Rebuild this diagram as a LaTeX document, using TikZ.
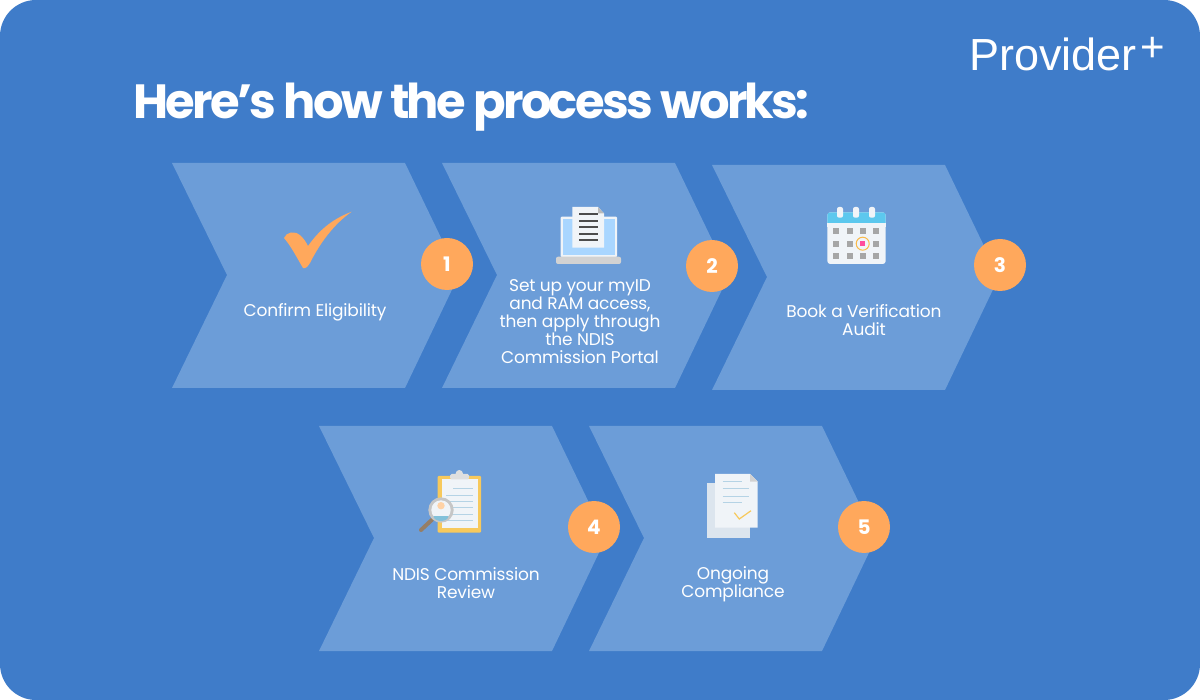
\documentclass[tikz,border=0pt]{standalone}
\usepackage{fontspec}
\setmainfont{Poppins}
\newfontfamily\logofont{Liberation Sans}
\newfontfamily\tightfont[LetterSpace=-1.0]{Poppins}
\newfontfamily\titlefont[LetterSpace=-5.7]{Poppins Bold}
\definecolor{panelblue}{HTML}{3F7CC9}
\definecolor{chevblue}{HTML}{6C9DD8}
\definecolor{badge}{HTML}{FFA85C}
\definecolor{papergray}{HTML}{F0F4F8}
\definecolor{linesblue}{HTML}{B5D3E5}
\definecolor{clipyellow}{HTML}{F7C95C}
\definecolor{screenblue}{HTML}{A9D6FF}
\definecolor{headercyan}{HTML}{5CC8EE}
\definecolor{backsheet}{HTML}{DCE5EE}

\begin{document}
\begin{tikzpicture}[
  x=1pt, y=-1pt,
  chevron/.style={fill=chevblue},
  steptext/.style={font=\fontsize{17}{18}\selectfont\tightfont, text=white, align=center, inner sep=0pt},
  stepnum/.style={circle, fill=badge, minimum size=52pt, inner sep=0pt, text=white,
                  font=\fontsize{20}{20}\selectfont\bfseries},
  heading/.style={font=\fontsize{48}{50}\selectfont\titlefont, text=white, inner sep=0pt, anchor=base west},
  logo/.style={font=\fontsize{45}{45}\selectfont\logofont, text=white, inner sep=0pt, anchor=base west}
]
\useasboundingbox (0,0) rectangle (1200,700);

% ---- Panel ----
\fill[panelblue, rounded corners=36pt] (0,0) rectangle (1200,700);

% ---- Heading and logo ----
\node[heading] (title) at (133,119) {Here’s how the process works:};
\node[logo] (brand) at (969,71) {Provider};
\node[logo, font=\fontsize{42}{42}\selectfont\logofont] (plus) at (1140,62) {+};

% ---- Row 0: chevrons ----
\fill[chevron] (172,163) -- (405,163) -- (459,275) -- (405,388) -- (172,388) -- (227,275) -- cycle;
\fill[chevron] (442,163) -- (675,163) -- (729,275) -- (675,388) -- (442,388) -- (497,275) -- cycle;
\fill[chevron] (712,165) -- (945,165) -- (999,277) -- (945,390) -- (712,390) -- (767,277) -- cycle;

% ---- Row 1: chevrons ----
\fill[chevron] (319,426) -- (552,426) -- (606,538) -- (552,651) -- (319,651) -- (374,538) -- cycle;
\fill[chevron] (589,426) -- (822,426) -- (876,538) -- (822,651) -- (589,651) -- (644,538) -- cycle;

% ---- Tick ----
\fill[badge] (351.7,211.7) .. controls (330,220) and (318,232) .. (308,246)
  .. controls (304,238) and (298,231) .. (291,232.5)
  .. controls (288,233) and (285,235) .. (284,238)
  .. controls (291,246) and (297,258) .. (303,268)
  .. controls (306,269) and (308,266) .. (310,263)
  .. controls (320,243) and (334,224) .. (351.7,211.7) -- cycle;

% ---- Laptop ----
\fill[papergray, rounded corners=1pt] (560.7,216.7) rectangle (617,257);
\fill[screenblue] (562.7,218.7) rectangle (615,255);
\fill[gray!35, rounded corners=2pt] (556,256.7) rectangle (621,264);
\fill[papergray] (572.3,207) -- (598,207) -- (604,213.5) -- (604,247.7) -- (572.3,247.7) -- cycle;
\fill[gray!55] (598,207) -- (604,213.5) -- (598,213.5) -- cycle;
\foreach \yy in {214.3,220.7,227,233.7,240.3}
  \draw[black!70, line width=2.3pt] (579,\yy) -- (598,\yy);

% ---- Calendar ----
\fill[papergray, rounded corners=3pt] (827.3,212.3) rectangle (885.7,264);
\fill[headercyan, rounded corners=3pt] (827.3,212.3) rectangle (885.7,226);
\fill[papergray] (827.3,223.3) rectangle (885.7,227);
\foreach \xx in {840,856,872}
  \fill[papergray, rounded corners=2pt] (\xx-3,207) rectangle (\xx+3,217.7);
\foreach \xx in {836.3,849.7,862.7,876}
  \foreach \yy in {230.7,243.7,256.3}
    \fill[gray!70] (\xx-3,\yy-3) rectangle (\xx+3,\yy+3);
\fill[papergray] (862.7,243.7) circle (6.5pt);
\draw[clipyellow!80!orange, line width=1pt] (862.7,243.7) circle (6.5pt);
\fill[red!55!magenta!70!white] (860,241) rectangle (865.4,246.4);

% ---- Clipboard ----
\fill[clipyellow, rounded corners=1pt] (437.7,476) rectangle (481,532.7);
\fill[papergray] (441.7,479.3) rectangle (478.3,528.3);
\fill[gray!25] (459.3,473.7) circle (3.7pt);
\fill[gray!25, rounded corners=1.5pt] (450,474) rectangle (469,479.5);
\draw[linesblue, line width=1pt] (453,489) -- (473,489);
\foreach \yy in {495.3,501.7,507.7,514,520}
  \draw[linesblue, line width=1pt] (446,\yy) -- (473,\yy);
\draw[black!45!brown!70, line width=4pt, line cap=round] (431.7,520) -- (421,530);
\fill[gray!45] (441,510) circle (12.7pt);
\fill[papergray] (441,510) circle (9.7pt);
\fill[orange!35!white] (441,505.7) circle (3.7pt);
\fill[cyan!60!gray!70] (433.5,516) arc[start angle=180, end angle=0, x radius=7.5pt, y radius=-5pt] -- cycle;

% ---- Documents ----
\fill[backsheet] (707,483.3) rectangle (750,537.7);
\fill[papergray] (715,474) -- (750,474) -- (757.7,481.7) -- (757.7,527.7) -- (715,527.7) -- cycle;
\fill[gray!35] (750,474) -- (757.7,481.7) -- (750,481.7) -- cycle;
\draw[linesblue, line width=1pt] (722.7,481.7) -- (741.7,481.7);
\draw[linesblue, line width=1pt] (722.7,489) -- (749.3,489);
\draw[linesblue, line width=1pt] (722.7,496) -- (749.3,496);
\draw[linesblue, line width=1pt] (722.7,502.7) -- (741.7,502.7);
\draw[clipyellow, line width=1.2pt] (734.3,512.7) -- (739.3,519) -- (751,510.7);

% ---- Step texts ----
\node[steptext] (confirm) at (315,312) {Confirm Eligibility};
\node[steptext] (setup) at (580,322) {Set up your myID\\and RAM access,\\then apply through\\the NDIS\\Commission Portal};
\node[steptext] (book) at (864,320) {Book a Verification\\Audit};
\node[steptext] (review) at (466,583) {NDIS Commission\\Review};
\node[steptext] (ongoing) at (733,584) {Ongoing\\Compliance};

% ---- Badges ----
\node[stepnum] (one) at (447,264) {1};
\node[stepnum] (two) at (712,266) {2};
\node[stepnum] (three) at (1000,265) {3};
\node[stepnum] (four) at (594,527) {4};
\node[stepnum] (five) at (864,527) {5};

\end{tikzpicture}
\end{document}
